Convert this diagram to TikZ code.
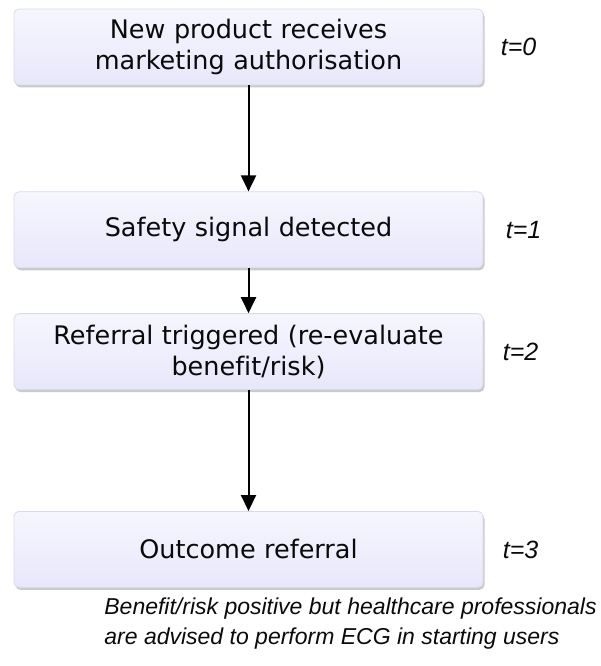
\documentclass[tikz,border=0pt]{standalone}
\usepackage{fontspec}
\setmainfont{DejaVu Sans}[Ligatures=NoCommon]
\newfontfamily\notefont{Liberation Sans}[Ligatures=NoCommon]
\usetikzlibrary{positioning, arrows.meta, shadows}
\definecolor{boxtop}{HTML}{F6F6FF}
\definecolor{boxbot}{HTML}{E7E7FA}
\definecolor{boxline}{HTML}{DADAEE}
\definecolor{ink}{HTML}{0A0A0A}

\begin{document}
\begin{tikzpicture}[
  x=1pt, y=1pt,
  font=\fontsize{25.5}{31}\selectfont,
  stage/.style={draw=boxline, line width=0.8pt, top color=boxtop,
                bottom color=boxbot, rounded corners=5pt, align=center,
                text=ink, minimum width=469pt, minimum height=76pt,
                text width=450pt, inner ysep=2pt,
                drop shadow={shadow xshift=1.5pt, shadow yshift=-2.5pt,
                             opacity=0.35, fill=black!60}},
  tlbl/.style={font=\notefont\itshape\fontsize{25}{30}\selectfont,
               text=ink, anchor=west},
  note/.style={font=\notefont\itshape\fontsize{23}{30}\selectfont,
               text=ink, align=left},
  arr/.style={-{Triangle[length=16pt, width=15pt]}, line width=2pt,
              draw=black},
]
\useasboundingbox (0,0) rectangle (601,-666);

% -- stages --------------------------------------------------------------
\node[stage] (b1) at (248.5,-47)
    {New product receives\\marketing authorisation};
\node[stage, below=106pt of b1] (b2) {Safety signal detected};
\node[stage, below=45pt of b2] (b3)
    {Referral triggered (re-evaluate\\benefit/risk)};
\node[stage, below=121pt of b3] (b4) {Outcome referral};

% -- time labels -------------------------------------------------------------
\node[tlbl, right=14pt of b1] (t0) {t=0};
\node[tlbl, right=19pt of b2] (t1) {t=1};
\node[tlbl, right=16pt of b3] (t2) {t=2};
\node[tlbl, right=16pt of b4] (t3) {t=3};

% -- arrows ------------------------------------------------------------------
\draw[arr] (b1.south) -- (b2.north);
\draw[arr] (b2.south) -- (b3.north);
\draw[arr] (b3.south) -- (b4.north);

% -- outcome note ------------------------------------------------------------
\node[note, below=6pt of b4, xshift=102pt] (out)
    {Benefit/risk positive but healthcare professionals\\
     are advised to perform ECG in starting users};

\end{tikzpicture}
\end{document}
